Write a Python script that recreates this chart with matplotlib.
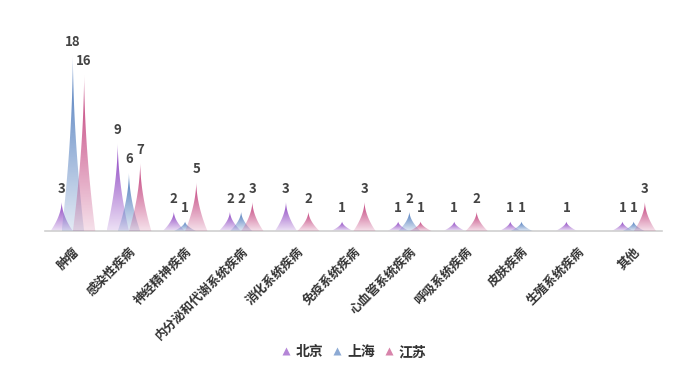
import numpy as np
import matplotlib.pyplot as plt
from matplotlib.path import Path
from matplotlib.patches import PathPatch
from matplotlib.lines import Line2D
from matplotlib.colors import to_rgb

plt.rcParams['font.family'] = ['Noto Sans CJK SC', 'DejaVu Sans']

categories = ['肿瘤', '感染性疾病', '神经精神疾病', '内分泌和代谢系统疾病', '消化系统疾病',
              '免疫系统疾病', '心血管系统疾病', '呼吸系统疾病', '皮肤疾病', '生殖系统疾病', '其他']
beijing = [3, 9, 2, 2, 3, 1, 1, 1, 1, 1, 1]
shanghai = [18, 6, 1, 2, 0, 0, 2, 0, 1, 0, 1]
jiangsu = [16, 7, 5, 3, 2, 3, 1, 2, 0, 0, 3]

series = [('北京', beijing, '#8435bd'), ('上海', shanghai, '#4272b8'), ('江苏', jiangsu, '#bf3373')]

fig = plt.figure(figsize=(6.9, 3.84), dpi=100)
ax = fig.add_axes([0.065, 0.398, 0.894, 0.511])

w = 0.40
offs = [-0.2, 0, 0.2]
yy = np.linspace(0, 1, 60)
half = 0.5 * (1 - yy) ** 1.8


def spike(xc, h):
    right = np.column_stack([xc + half * w, yy * h])
    left = np.column_stack([xc - half[::-1] * w, yy[::-1] * h])
    return Path(np.vstack([right, left, right[:1]]), closed=True)


for k, (name, vals, col) in enumerate(series):
    rgb = np.array(to_rgb(col))
    n = 100
    t = np.linspace(0, 1, n)
    grad = np.zeros((n, 1, 4))
    grad[:, 0, :3] = rgb
    grad[:, 0, 3] = 0.15 + 0.83 * t
    for i, v in enumerate(vals):
        if v <= 0:
            continue
        xc = i + offs[k]
        patch = PathPatch(spike(xc, v), facecolor='none', edgecolor='none')
        ax.add_patch(patch)
        im = ax.imshow(grad, extent=[xc - w / 2, xc + w / 2, 0, v], origin='lower',
                       aspect='auto', interpolation='bilinear', zorder=2 + k)
        im.set_clip_path(patch)
        ax.text(xc, v + 0.6, str(v), ha='center', va='bottom',
                fontsize=9.5, fontweight='bold', color='#444444')

ax.set_xlim(-0.5, len(categories) - 0.5)
ax.set_ylim(0, 20)
for s in ['top', 'right', 'left']:
    ax.spines[s].set_visible(False)
ax.spines['bottom'].set_color('#d0d0d0')
ax.spines['bottom'].set_linewidth(1.2)
ax.set_yticks([])
ax.set_xticks(range(len(categories)))
ax.set_xticklabels(categories, rotation=45, ha='right', rotation_mode='anchor',
                   fontsize=9, fontweight='bold', color='#333333')
ax.tick_params(axis='x', length=0, pad=10)

handles = [Line2D([], [], linestyle='none', marker='^', markersize=6,
                  markerfacecolor=c, markeredgecolor='none', alpha=0.6)
           for _, _, c in series]
fig.legend(handles, [s[0] for s in series], loc='center', bbox_to_anchor=(0.512, 0.083),
           ncol=3, frameon=False, handlelength=0.8, handletextpad=0.3, columnspacing=0.6,
           prop={'weight': 'bold', 'size': 10}, labelcolor='#333333')

fig.savefig('out.png', dpi=100)
